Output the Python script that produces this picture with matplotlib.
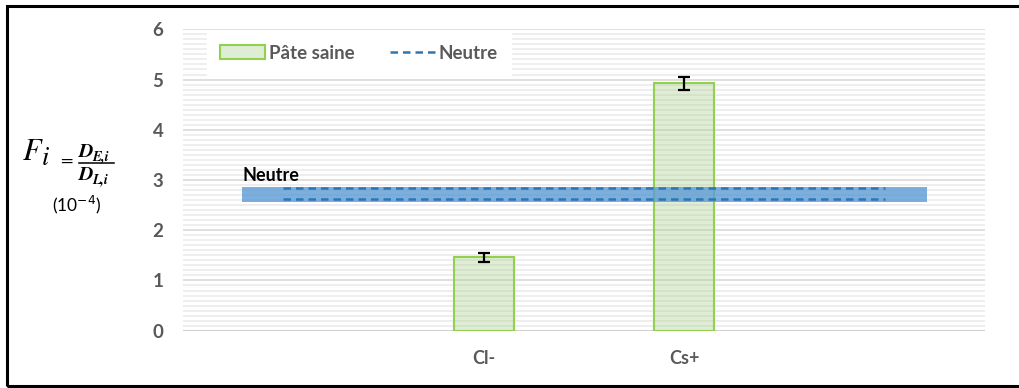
import matplotlib.pyplot as plt
import matplotlib.colors as mcolors
from matplotlib.patches import Rectangle
from matplotlib.lines import Line2D
import numpy as np

plt.rcParams['font.family'] = ['Lato', 'DejaVu Sans']

# data
categories = ['', 'Cl-', 'Cs+', '']
fi_values = [np.nan, 1.46, 4.93, np.nan]
fi_errors = [0, 0.09, 0.13, 0]
neutre_low = 2.62
neutre_high = 2.84
neutre_band = (2.56, 2.87)

grey = '#595959'

fig = plt.figure(figsize=(10.19, 3.88), dpi=100)
ax = fig.add_axes([183 / 1019, 1 - 330.7 / 388, 802 / 1019, 301.4 / 388])

x = np.arange(len(categories))

# grid: major every 1, minor every 0.1
ax.set_ylim(0, 6)
ax.set_xlim(-0.5, len(categories) - 0.5)
ax.set_yticks(np.arange(0, 7, 1))
ax.set_yticks(np.arange(0, 6.01, 0.1), minor=True)
ax.grid(axis='y', which='minor', color='#EBEBEB', lw=1.2, zorder=0)
ax.grid(axis='y', which='major', color='#D9D9D9', lw=1.2, zorder=0)
ax.set_axisbelow(True)
for s in ax.spines.values():
    s.set_visible(False)
ax.axhline(0, color='#D0D0D0', lw=1.5, zorder=1)

bars = ax.bar(x, fi_values, width=0.30, facecolor=mcolors.to_rgba('#A9D18E', 0.38),
              edgecolor='#92D050', lw=1.5, zorder=2, label='Pâte saine')
ax.errorbar(x, fi_values, yerr=fi_errors, fmt='none', ecolor='black',
            elinewidth=1.6, capsize=4.5, capthick=1.6, zorder=3)

# neutral zone
ax.fill_between([-0.205, 3.21], neutre_band[0], neutre_band[1],
                color='#5B9BD5', alpha=0.8, lw=0, zorder=4)
ax.plot([0, 3], [neutre_high] * 2, ls=(0, (3, 2)), color='#2E75B6', lw=1.8, zorder=5)
ax.plot([0, 3], [neutre_low] * 2, ls=(0, (3, 2)), color='#2E75B6', lw=1.8, zorder=5)
ax.text(-0.205, 2.93, 'Neutre', fontsize=13, fontweight='bold', color='black',
        ha='left', va='bottom', zorder=6)

ax.set_xticks(x)
ax.set_xticklabels(categories, fontsize=13, fontweight='bold', color=grey)
ax.tick_params(axis='both', which='both', length=0)
ax.tick_params(axis='x', pad=14)
ax.tick_params(axis='y', pad=14, labelsize=13.5, labelcolor=grey)
for lbl in ax.get_yticklabels():
    lbl.set_fontweight('bold')

# legend
handles = [Rectangle((0, 0), 1, 1, facecolor=mcolors.to_rgba('#A9D18E', 0.38),
                     edgecolor='#92D050', lw=1.5),
           Line2D([0], [0], ls=(0, (3, 2)), color='#2E75B6', lw=1.8)]
leg = ax.legend(handles, ['Pâte saine', 'Neutre'], ncol=2, loc='upper left',
                bbox_to_anchor=(0.03, 0.993), borderaxespad=0, frameon=True,
                fancybox=False, edgecolor='white', framealpha=1, handlelength=2.4,
                handleheight=0.8, columnspacing=1.9, handletextpad=0.2, borderpad=0.7,
                prop={'size': 13.5, 'weight': 'bold'})
for t in leg.get_texts():
    t.set_color(grey)
leg.set_zorder(7)

# y label: F_i = D_E,i / D_L,i  (10^-4)
def px(xp, yp):
    return xp / 1019, 1 - yp / 388

serif = dict(family='STIXGeneral', style='italic')
fig.text(*px(23, 160), 'F', fontsize=22, ha='left', va='baseline', **serif)
fig.text(*px(42, 165), 'i', fontsize=19, ha='left', va='baseline', **serif)
fig.text(*px(60, 166), '=', fontsize=13, ha='left', va='baseline', family='STIXGeneral')
fig.text(*px(79, 157), 'D', fontsize=14.5, ha='left', va='baseline', weight='bold', **serif)
fig.text(*px(92, 160), 'E,i', fontsize=10, ha='left', va='baseline', weight='bold', **serif)
fig.add_artist(Line2D([79 / 1019, 114 / 1019], [1 - 162.5 / 388] * 2,
                      transform=fig.transFigure, color='black', lw=1.1))
fig.text(*px(79, 180), 'D', fontsize=14.5, ha='left', va='baseline', weight='bold', **serif)
fig.text(*px(92, 183), 'L,i', fontsize=10, ha='left', va='baseline', weight='bold', **serif)
fig.text(*px(77, 205), r'(10$^{-4}$)', fontsize=12.5, ha='center', va='center')

# outer frame
fig.add_artist(Rectangle((7 / 1019, 2 / 388), 1.0, 380 / 388, transform=fig.transFigure,
                         fill=False, edgecolor='black', lw=2.2))

fig.savefig('out.png', dpi=100)
